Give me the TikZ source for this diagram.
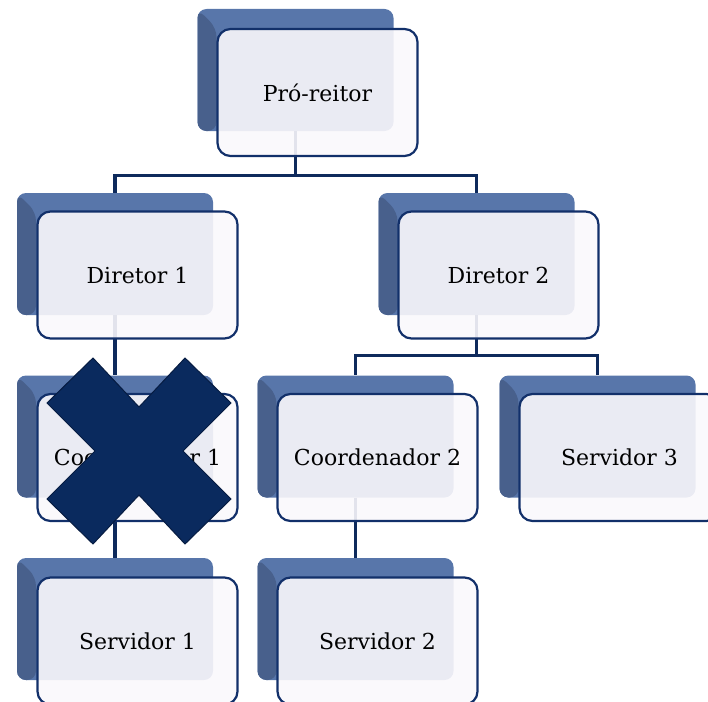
\documentclass[tikz,border=0pt]{standalone}
\usepackage{fontspec}
\setmainfont{DejaVu Serif}
\definecolor{navy}{RGB}{14,42,92}
\definecolor{xnavy}{RGB}{10,42,94}
\definecolor{xedge}{RGB}{6,28,66}
\definecolor{shtop}{RGB}{88,118,170}
\definecolor{shleft}{RGB}{72,96,140}
\definecolor{frontfill}{RGB}{250,248,252}
\definecolor{frontedge}{RGB}{18,48,106}
\tikzset{
  shadowbox/.style={rectangle, rounded corners=9pt, minimum width=196pt, minimum height=122pt,
    inner sep=0pt, fill=shtop,
    path picture={\fill[shleft] (path picture bounding box.north west)
      -- ([xshift=19pt,yshift=-19pt]path picture bounding box.north west)
      -- ([xshift=19pt]path picture bounding box.south west)
      -- (path picture bounding box.south west) -- cycle;}},
  frontbox/.style={rectangle, rounded corners=13pt, minimum width=200pt, minimum height=127pt,
    inner sep=0pt, fill=frontfill, fill opacity=0.9, text opacity=1, draw=frontedge,
    line width=2.2pt, font=\fontsize{22}{26}\selectfont},
  conn/.style={draw=navy, line width=3.2pt},
  crossmark/.style={fill=xnavy, draw=xedge, line width=1pt, line join=miter}
}
\begin{document}
\begin{tikzpicture}[x=1pt,y=-1pt]
\useasboundingbox (0,0) rectangle (708,701);
\clip (0,0) rectangle (708,701);
% shadow boxes
\node[shadowbox] (p0s) at (295.5,70) {};
\node[shadowbox] (d1s) at (115,254) {};
\node[shadowbox] (d2s) at (476.5,254) {};
\node[shadowbox] (c1s) at (115,436.5) {};
\node[shadowbox] (c2s) at (355.5,436.5) {};
\node[shadowbox] (s3s) at (597.5,436.5) {};
\node[shadowbox] (s1s) at (115,619) {};
\node[shadowbox] (s2s) at (355.5,619) {};
% connectors
\coordinate (bus0) at ([yshift=-44pt]p0s.south);
\coordinate (bus2) at ([yshift=-40pt]d2s.south);
\draw[conn] (p0s.south) -- (bus0);
\draw[conn] (bus0) -| (d1s.north);
\draw[conn] (bus0) -| (d2s.north);
\draw[conn] (d1s.south) -- (c1s.north);
\draw[conn] (d2s.south) -- (bus2);
\draw[conn] (bus2) -| (c2s.north);
\draw[conn] (bus2) -| (s3s.north);
\draw[conn] (c1s.south) -- (s1s.north);
\draw[conn] (c2s.south) -- (s2s.north);
% front boxes
\node[frontbox] (p0) at (317.5,92.5) {Pró-reitor};
\node[frontbox] (d1) at (137.5,275) {Diretor 1};
\node[frontbox] (d2) at (498.5,275) {Diretor 2};
\node[frontbox] (c1) at (137.5,457.5) {Coordenador 1};
\node[frontbox] (c2) at (377.5,457.5) {Coordenador 2};
\node[frontbox] (s3) at (619.5,457.5) {Servidor 3};
\node[frontbox] (s1) at (137.5,641) {Servidor 1};
\node[frontbox] (s2) at (377.5,641) {Servidor 2};
% cross
\draw[crossmark] (139,407) -- (185,358) -- (231,403) -- (183,451) -- (231,499)
  -- (185,544) -- (139,495) -- (93,544) -- (47,499) -- (95,451) -- (47,403)
  -- (93,358) -- cycle;
\end{tikzpicture}
\end{document}
